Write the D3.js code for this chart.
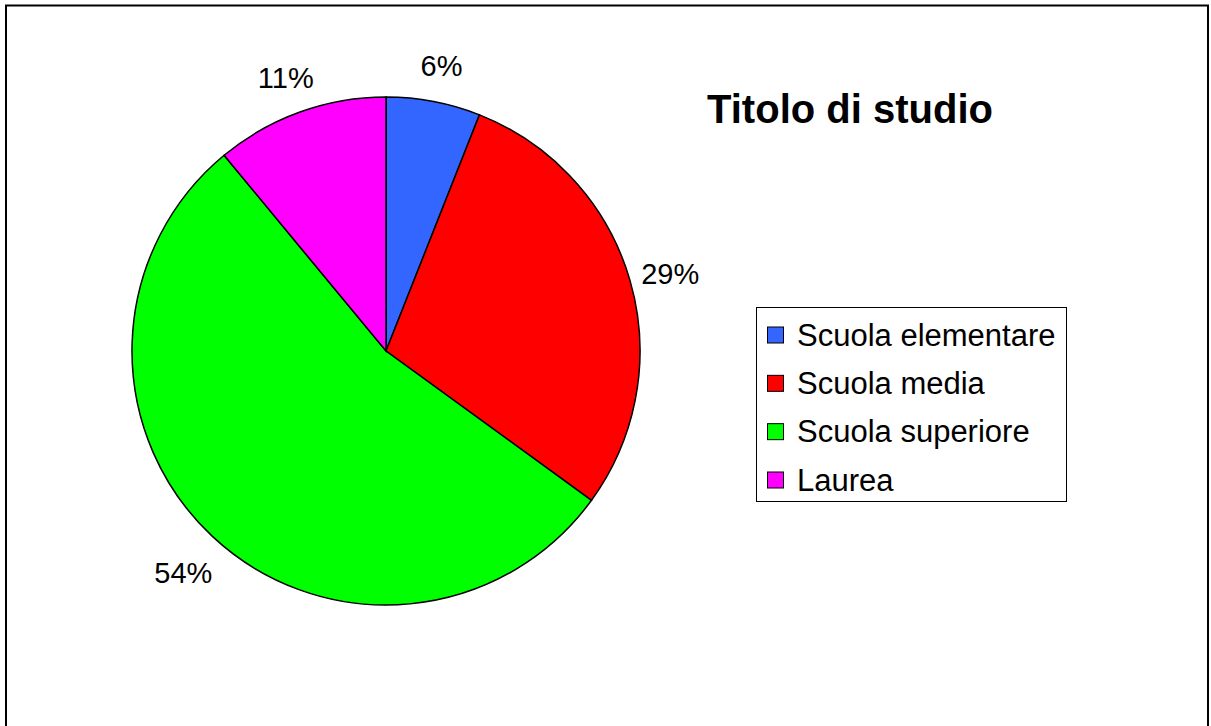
<!DOCTYPE html>
<html>
<head>
<meta charset="utf-8">
<script src="https://cdn.jsdelivr.net/npm/d3@7"></script>
<style>
  html, body { margin: 0; padding: 0; background: #fff; }
  svg { display: block; font-family: "Liberation Sans", Arial, sans-serif; }
</style>
</head>
<body>
<div id="chart"></div>
<script>
// data
var categories = ["Scuola elementare", "Scuola media", "Scuola superiore", "Laurea"];
var values = [6, 29, 54, 11];
var colors = ["#3366FF", "#FF0000", "#00FF00", "#FF00FF"];
var title = "Titolo di studio";

var width = 1211,
    height = 726;

var svg = d3.select("#chart")
  .append("svg")
    .attr("width", width)
    .attr("height", height);

// outer chart frame (bottom edge falls outside the window)
svg.append("rect")
  .attr("x", 6)
  .attr("y", 5.5)
  .attr("width", 1202)
  .attr("height", 760)
  .attr("fill", "white")
  .attr("stroke", "black")
  .attr("stroke-width", 2);

var cx = 386, cy = 351, radius = 254;

var g = svg.append("g")
  .attr("transform", "translate(" + cx + "," + cy + ")");

var data = categories.map(function(c, i){ return {key: c, value: values[i]}; });

var pie = d3.pie()
  .sort(null)
  .value(function(d){ return d.value; });
var data_ready = pie(data);

var color = d3.scaleOrdinal()
  .domain(categories)
  .range(colors);

var arc = d3.arc()
  .innerRadius(0)
  .outerRadius(radius);

g.selectAll("path.slice")
  .data(data_ready)
  .enter()
  .append("path")
    .attr("class", "slice")
    .attr("d", arc)
    .attr("fill", function(d){ return color(d.data.key); })
    .attr("stroke", "black")
    .style("stroke-width", "1.5px");

// percentage labels outside the pie
var total = d3.sum(values);
var labelArc = d3.arc()
  .innerRadius(radius + 42)
  .outerRadius(radius + 42);

g.selectAll("text.pct")
  .data(data_ready)
  .enter()
  .append("text")
    .attr("class", "pct")
    .attr("transform", function(d){
      var c = labelArc.centroid(d);
      return "translate(" + c[0] + "," + (c[1] + 6) + ")";
    })
    .attr("text-anchor", "middle")
    .attr("dominant-baseline", "central")
    .style("font-size", "29px")
    .text(function(d){ return Math.round(d.data.value / total * 100) + "%"; });

// title
svg.append("text")
  .attr("x", 850)
  .attr("y", 123)
  .attr("text-anchor", "middle")
  .style("font-size", "40px")
  .style("font-weight", "bold")
  .text(title);

// legend
var legend = svg.append("g")
  .attr("transform", "translate(756,307)");

legend.append("rect")
  .attr("x", 0.5)
  .attr("y", 0.5)
  .attr("width", 310)
  .attr("height", 194)
  .attr("fill", "white")
  .attr("stroke", "black")
  .attr("stroke-width", 1);

var rowY = d3.scalePoint()
  .domain(categories)
  .range([28, 173]);

var item = legend.selectAll("g.item")
  .data(categories)
  .enter()
  .append("g")
    .attr("class", "item")
    .attr("transform", function(d){ return "translate(0," + rowY(d) + ")"; });

item.append("rect")
  .attr("x", 11.5)
  .attr("y", -8)
  .attr("width", 16)
  .attr("height", 16)
  .attr("fill", function(d){ return color(d); })
  .attr("stroke", "black")
  .attr("stroke-width", 1);

item.append("text")
  .attr("x", 41)
  .attr("y", 0)
  .attr("dominant-baseline", "central")
  .style("font-size", "31px")
  .text(function(d){ return d; });
</script>
</body>
</html>
